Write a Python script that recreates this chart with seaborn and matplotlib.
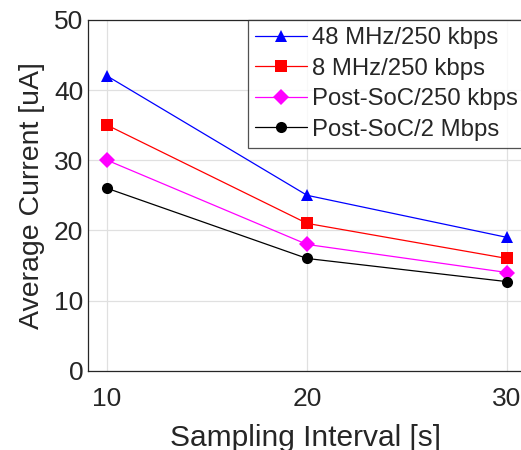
import seaborn as sns
import matplotlib.pyplot as plt
import pandas as pd

# Data
intervals = [10, 20, 30]
configs = ["48 MHz/250 kbps", "8 MHz/250 kbps", "Post-SoC/250 kbps", "Post-SoC/2 Mbps"]
current_48mhz = [42, 25, 19]
current_8mhz = [35, 21, 16]
current_post_250k = [30, 18, 14]
current_post_2m = [26, 16, 12.7]

colors = ["#0000ff", "#ff0000", "#ff00ff", "#000000"]
markers = ["^", "s", "D", "o"]

rows = []
for name, vals in zip(configs, [current_48mhz, current_8mhz, current_post_250k, current_post_2m]):
    for x, y in zip(intervals, vals):
        rows.append({"interval": x, "current": y, "config": name})
df = pd.DataFrame(rows)

sns.set_style("whitegrid")
plt.rcParams["font.family"] = ["Liberation Sans", "DejaVu Sans"]

fig = plt.figure(figsize=(5.21, 4.5), dpi=100)
# axes runs slightly past the right edge, as in the cropped reference
ax = fig.add_axes([0.169, 0.176, 0.835, 0.78])

sns.lineplot(
    data=df, x="interval", y="current", hue="config", style="config",
    hue_order=configs, style_order=configs, palette=colors,
    markers=markers, dashes=False, linewidth=0.9, markersize=8,
    markeredgewidth=0, ax=ax
)

ax.set_xlim(9.05, 30.8)
ax.set_ylim(0, 50)
ax.set_xticks(intervals)
ax.set_yticks([0, 10, 20, 30, 40, 50])
ax.tick_params(axis="both", labelsize=19, colors="#262626", direction="in", length=4)
ax.tick_params(axis="x", pad=12)
ax.set_xlabel("Sampling Interval [s]", fontsize=21.5, color="#262626", labelpad=9)
ax.set_ylabel("Average Current [uA]", fontsize=20.5, color="#262626", labelpad=6)

ax.grid(True, color="#e0e0e0", linewidth=0.9)
for side in ["left", "bottom", "top"]:
    ax.spines[side].set_color("#262626")
    ax.spines[side].set_linewidth(0.9)
ax.spines["right"].set_visible(False)

leg = ax.legend(
    loc="upper right", bbox_to_anchor=(1.005, 1.0), fontsize=17.2, frameon=True,
    fancybox=False, edgecolor="#262626", handlelength=2.2,
    borderpad=0.3, labelspacing=0.36, handletextpad=0.2, borderaxespad=0
)
leg.get_frame().set_linewidth(0.9)

fig.savefig("out.png", dpi=100)
